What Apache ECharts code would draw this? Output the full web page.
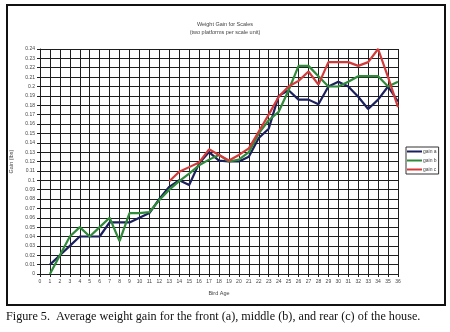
<!DOCTYPE html>
<html>
<head>
<meta charset="utf-8">
<script src="https://cdn.jsdelivr.net/npm/echarts@6/dist/echarts.min.js"></script>
<style>
  html, body { margin: 0; padding: 0; background: #fff; }
  #chart { width: 450px; height: 332px; }
</style>
</head>
<body>
<div id="chart"></div>
<script>
// Bird age (days) for each reading
const ages = [1,2,3,4,5,6,7,8,9,10,11,12,13,14,15,16,17,18,19,20,21,22,23,24,25,26,27,28,29,30,31,32,33,34,35,36];

// Average weight gain (lbs) per scale location
const gainA = [0.01,0.02,0.03,0.04,0.04,0.04,0.055,0.055,0.055,0.06,0.065,0.08,0.093,0.1,0.095,0.118,0.13,0.121,0.12,0.12,0.125,0.145,0.155,0.19,0.196,0.186,0.186,0.181,0.2,0.205,0.2,0.189,0.176,0.186,0.2,0.184];
const gainB = [0,0.02,0.04,0.05,0.04,0.05,0.06,0.035,0.065,0.065,0.066,0.079,0.09,0.099,0.107,0.116,0.122,0.127,0.12,0.122,0.13,0.15,0.164,0.173,0.196,0.222,0.222,0.211,0.2,0.2,0.205,0.211,0.211,0.211,0.2,0.205];
const gainC = [null,null,null,null,null,null,null,null,null,null,null,null,0.099,0.109,0.114,0.119,0.133,0.127,0.121,0.127,0.134,0.152,0.17,0.189,0.2,0.206,0.216,0.202,0.226,0.226,0.226,0.222,0.226,0.24,0.21,0.178];

const seriesNames = ['gain a', 'gain b', 'gain c'];
const seriesColors = ['#1b1f5c', '#2f8a3a', '#d23a3a'];

const pairs = vals => ages.map((a, i) => [a, vals[i]]);

const chart = echarts.init(document.getElementById('chart'), null, { renderer: 'canvas' });

const gridLine = { show: true, lineStyle: { color: '#1e1e1e', width: 1 } };
const smallText = { fontFamily: 'Liberation Sans, Arial, sans-serif', color: '#444' };

chart.setOption({
  backgroundColor: '#fff',
  animation: false,
  title: {
    text: 'Weight Gain for Scales',
    subtext: '(two platforms per scale unit)',
    left: 'center',
    top: 16,
    itemGap: 2,
    textStyle: Object.assign({ fontSize: 5.5, fontWeight: 'normal' }, smallText),
    subtextStyle: Object.assign({ fontSize: 5.5 }, smallText)
  },
  legend: {
    orient: 'vertical',
    left: 406,
    top: 147,
    itemWidth: 15,
    itemHeight: 2,
    itemGap: 4,
    padding: [2, 2, 2, 1],
    borderColor: '#333',
    borderWidth: 1,
    icon: 'rect',
    data: seriesNames,
    textStyle: Object.assign({ fontSize: 5, padding: [0, 0, 0, -4] }, smallText)
  },
  grid: { left: 40, right: 52, top: 49, bottom: 58 },
  xAxis: {
    type: 'value',
    min: 0,
    max: 36,
    interval: 1,
    name: 'Bird Age',
    nameLocation: 'middle',
    nameGap: 16,
    nameTextStyle: Object.assign({ fontSize: 5.5 }, smallText),
    axisLine: { lineStyle: { color: '#1e1e1e', width: 1 } },
    axisTick: { show: true, length: 3, lineStyle: { color: '#1e1e1e' } },
    axisLabel: Object.assign({ fontSize: 5, margin: 5 }, smallText),
    splitLine: gridLine
  },
  yAxis: {
    type: 'value',
    min: 0,
    max: 0.24,
    interval: 0.01,
    name: 'Gain (lbs)',
    nameLocation: 'middle',
    nameGap: 26,
    nameRotate: 90,
    nameTextStyle: Object.assign({ fontSize: 5.5 }, smallText),
    axisLine: { show: true, lineStyle: { color: '#1e1e1e', width: 1 } },
    axisTick: { show: true, length: 3, lineStyle: { color: '#1e1e1e' } },
    axisLabel: Object.assign({ fontSize: 5, margin: 5 }, smallText),
    splitLine: gridLine
  },
  series: [gainA, gainB, gainC].map((vals, i) => ({
    name: seriesNames[i],
    type: 'line',
    data: pairs(vals),
    showSymbol: false,
    connectNulls: false,
    color: seriesColors[i],
    lineStyle: { width: 2.2, color: seriesColors[i] },
    z: 3 + i
  })),
  graphic: [
    {
      type: 'rect',
      shape: { x: 7, y: 5, width: 438, height: 300 },
      style: { fill: 'none', stroke: '#111', lineWidth: 2 },
      silent: true
    },
    {
      type: 'text',
      left: 6,
      top: 311,
      style: {
        text: 'Figure 5.  Average weight gain for the front (a), middle (b), and rear (c) of the house.',
        font: '12.2px "Liberation Serif", "Times New Roman", serif',
        fill: '#111'
      }
    }
  ]
});
</script>
</body>
</html>
